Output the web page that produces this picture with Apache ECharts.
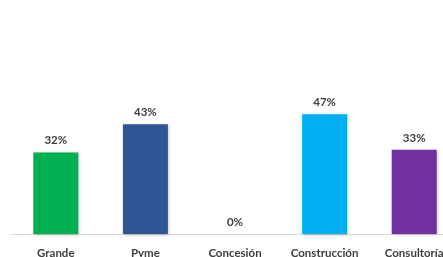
<!DOCTYPE html>
<html>
<head>
<meta charset="utf-8">
<script src="https://cdn.jsdelivr.net/npm/echarts@6/dist/echarts.min.js"></script>
<style>
  html, body { margin: 0; padding: 0; background: #fff; }
  #chart { width: 443px; height: 257px; }
</style>
</head>
<body>
<div id="chart"></div>
<script>
// categorías y porcentajes
const categories = ['Grande', 'Pyme', 'Concesión', 'Construcción', 'Consultoría']
const values = [32, 43, 0, 47, 33]
const colors = ['#00b050', '#2f5597', '#7f7f7f', '#00b0f0', '#7030a0']

const chart = echarts.init(document.getElementById('chart'), null, { renderer: 'canvas' })

chart.setOption({
    animation: false,
    grid: { left: 11, right: -16, top: 81, bottom: 23, outerBoundsMode: 'none', containLabel: false },
    xAxis: {
        type: 'category',
        data: categories,
        axisLine: { lineStyle: { color: '#d9d9d9', width: 1 } },
        axisTick: { show: false },
        axisLabel: {
            interval: 0,
            margin: 13,
            color: '#404040',
            fontFamily: 'Lato',
            fontWeight: 'bold',
            fontSize: 11.5
        }
    },
    yAxis: {
        type: 'value',
        min: 0,
        max: 60,
        show: false,
        splitLine: { show: false }
    },
    series: [{
        type: 'bar',
        barWidth: 45,
        data: values.map((v, i) => ({
            value: v,
            itemStyle: { color: colors[i] }
        })),
        itemStyle: {
            shadowColor: 'rgba(0,0,0,0.25)',
            shadowBlur: 3,
            shadowOffsetX: 1,
            shadowOffsetY: 1
        },
        label: {
            show: true,
            position: 'top',
            distance: 6,
            formatter: '{c}%',
            color: '#404040',
            fontFamily: 'Lato',
            fontWeight: 'bold',
            fontSize: 11.5
        }
    }]
})
</script>
</body>
</html>
